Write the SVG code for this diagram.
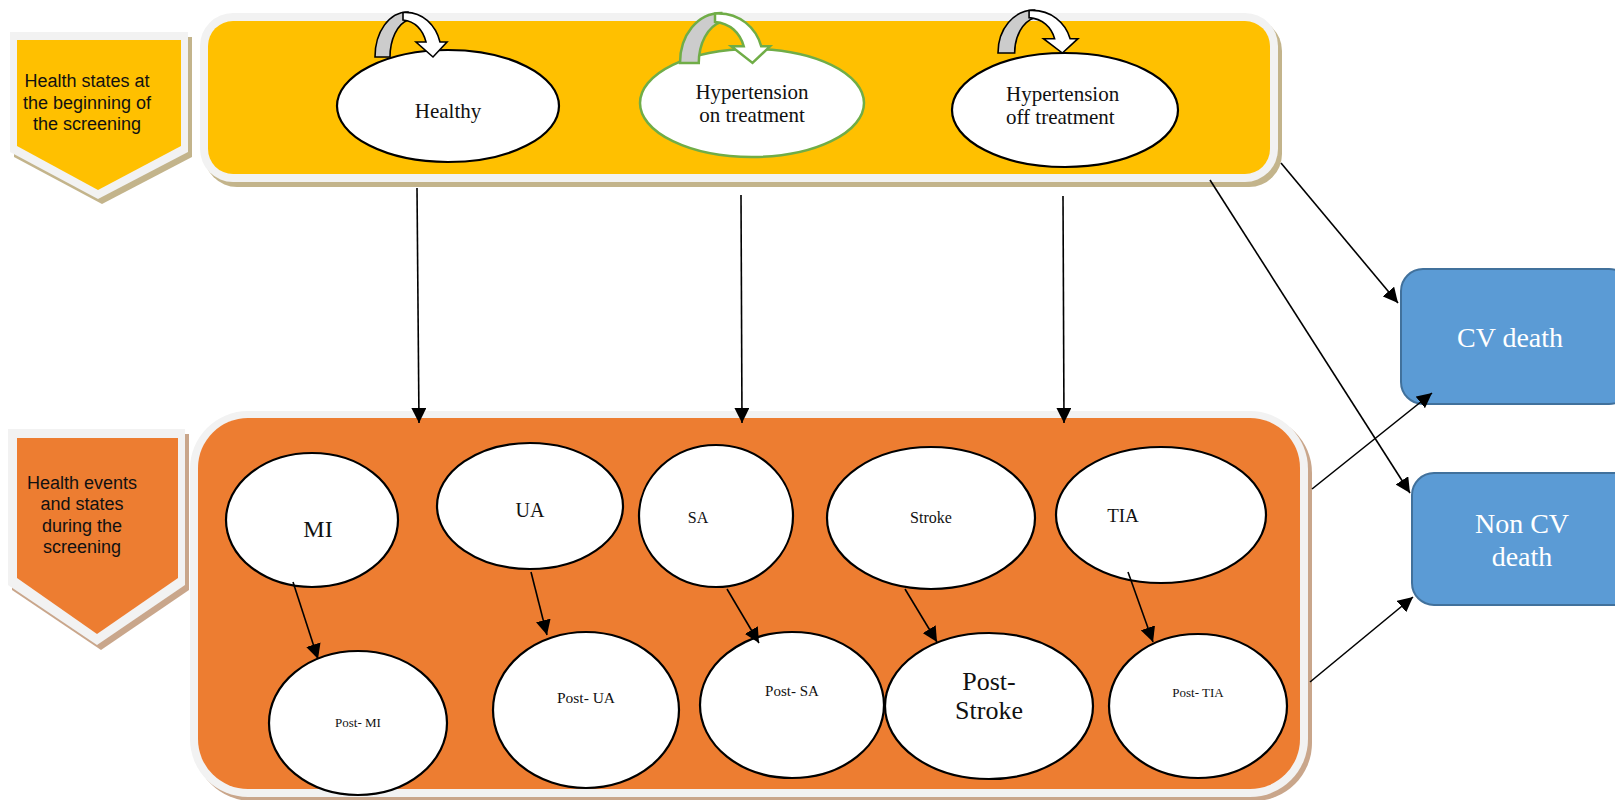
<svg xmlns="http://www.w3.org/2000/svg" width="1615" height="800" viewBox="0 0 1615 800">
<defs>
<marker id="ah" viewBox="0 0 10 10" refX="10" refY="5" markerWidth="15" markerHeight="15" markerUnits="userSpaceOnUse" orient="auto">
<path d="M0,0 L10,5 L0,10 Z" fill="#000"/>
</marker>
<style>
.lbl{font-family:"Liberation Sans",Arial,sans-serif;font-size:18px;fill:#111;text-anchor:middle}
.ser{font-family:"Liberation Serif","Times New Roman",serif;fill:#111;text-anchor:middle}
.ell{fill:#fff;stroke:#000;stroke-width:2.2}
.con{stroke:#000;stroke-width:1.6;fill:none;marker-end:url(#ah)}
.plain{stroke:#000;stroke-width:1.6;fill:none}
.grey{fill:#cccccc;stroke:#000;stroke-width:1.6;vector-effect:non-scaling-stroke}
.wht{fill:#fff;stroke:#000;stroke-width:1.6;vector-effect:non-scaling-stroke}
.blue{fill:#5b9bd5;stroke:#41719c;stroke-width:2}
.bt{font-family:"Liberation Serif","Times New Roman",serif;font-size:28px;fill:#fff;text-anchor:middle}
</style>
</defs>
<rect width="1615" height="800" fill="#fff"/>

<!-- top chevron -->
<g id="label-top">
<polygon points="14,37 192,37 192,157 102,204 14,157" fill="#c3b48b"/>
<polygon points="10,32 188,32 188,152 98,199 10,152" fill="#f2f2f2"/>
<polygon points="17,40 181,40 181,146 98,190 17,146" fill="#ffc000"/>
<text class="lbl" x="87" y="87">Health states at</text>
<text class="lbl" x="87" y="109">the beginning of</text>
<text class="lbl" x="87" y="130">the screening</text>
</g>

<!-- top container -->
<g id="top-box">
<rect x="204" y="18" width="1078" height="169" rx="33" fill="#c3b48b"/>
<rect x="200" y="13" width="1078" height="169" rx="33" fill="#f2f2f2"/>
<rect x="208" y="21" width="1062" height="153" rx="25" fill="#ffc000"/>
</g>

<!-- bottom chevron -->
<g id="label-bottom">
<polygon points="12,434 189,434 189,590 101,650 12,590" fill="#c9a68b"/>
<polygon points="8,429 185,429 185,585 97,645 8,585" fill="#f2f2f2"/>
<polygon points="17,438 178,438 178,578 97,634 17,578" fill="#ed7d31"/>
<text class="lbl" x="82" y="489">Health events</text>
<text class="lbl" x="82" y="510">and states</text>
<text class="lbl" x="82" y="532">during the</text>
<text class="lbl" x="82" y="553">screening</text>
</g>

<!-- bottom container -->
<g id="bottom-box">
<rect x="194" y="415" width="1118" height="386" rx="58" fill="#c9a68b"/>
<rect x="190" y="411" width="1118" height="386" rx="58" fill="#f2f2f2"/>
<rect x="198" y="418" width="1102" height="371" rx="50" fill="#ed7d31"/>
</g>

<!-- top states -->
<g id="healthy">
<ellipse class="ell" cx="448" cy="106" rx="111" ry="56"/>
<text class="ser" x="448" y="118" font-size="21">Healthy</text>
<g transform="translate(375,12)">
<path class="grey" d="M0,45 C0,20 14,0 33,0 L33,8 C22,12 15,28 15,45 Z"/>
<path class="wht" d="M28,0.5 C48,-1 61,14 65,30 L72,30 L58,45 L41,30 L51,30 C48,18 40,9 28,8 Z"/>
</g>
</g>

<g id="htn-on">
<ellipse cx="752" cy="103" rx="112" ry="54" fill="#fff" stroke="#70ad47" stroke-width="2.5"/>
<text class="ser" x="752" y="99" font-size="21">Hypertension</text>
<text class="ser" x="752" y="122" font-size="21">on treatment</text>
<g transform="translate(680,13) scale(1.25,1.11)">
<path class="grey" style="stroke:#70ad47;stroke-width:2.5" d="M0,45 C0,20 14,0 33,0 L33,8 C22,12 15,28 15,45 Z"/>
<path class="wht" style="stroke:#70ad47;stroke-width:2.5" d="M28,0.5 C48,-1 61,14 65,30 L72,30 L58,45 L41,30 L51,30 C48,18 40,9 28,8 Z"/>
</g>
</g>

<g id="htn-off">
<ellipse class="ell" cx="1065" cy="110" rx="113" ry="57"/>
<text class="ser" x="1006" y="101" font-size="21" text-anchor="start" style="text-anchor:start">Hypertension</text>
<text class="ser" x="1006" y="124" font-size="21" style="text-anchor:start">off treatment</text>
<g transform="translate(998,10) scale(1.11,0.956)">
<path class="grey" d="M0,45 C0,20 14,0 33,0 L33,8 C22,12 15,28 15,45 Z"/>
<path class="wht" d="M28,0.5 C48,-1 61,14 65,30 L72,30 L58,45 L41,30 L51,30 C48,18 40,9 28,8 Z"/>
</g>
</g>

<!-- events row -->
<g id="mi"><ellipse class="ell" cx="312" cy="520" rx="86" ry="67"/><text class="ser" x="318" y="537" font-size="24">MI</text></g>
<g id="ua"><ellipse class="ell" cx="530" cy="506" rx="93" ry="63"/><text class="ser" x="530" y="517" font-size="20">UA</text></g>
<g id="sa"><ellipse class="ell" cx="716" cy="516" rx="77" ry="71"/><text class="ser" x="698" y="523" font-size="16">SA</text></g>
<g id="stroke"><ellipse class="ell" cx="931" cy="518" rx="104" ry="71"/><text class="ser" x="931" y="523" font-size="16">Stroke</text></g>
<g id="tia"><ellipse class="ell" cx="1161" cy="515" rx="105" ry="68"/><text class="ser" x="1123" y="522" font-size="19">TIA</text></g>

<!-- post states row -->
<g id="post-mi"><ellipse class="ell" cx="358" cy="723" rx="89" ry="72"/><text class="ser" x="358" y="727" font-size="13">Post- MI</text></g>
<g id="post-ua"><ellipse class="ell" cx="586" cy="710" rx="93" ry="78"/><text class="ser" x="586" y="703" font-size="15.5">Post- UA</text></g>
<g id="post-sa"><ellipse class="ell" cx="792" cy="705" rx="92" ry="73"/><text class="ser" x="792" y="696" font-size="15">Post- SA</text></g>
<g id="post-stroke"><ellipse class="ell" cx="989" cy="706" rx="104" ry="73"/><text class="ser" x="989" y="690" font-size="26">Post-</text><text class="ser" x="989" y="719" font-size="26">Stroke</text></g>
<g id="post-tia"><ellipse class="ell" cx="1198" cy="706" rx="89" ry="72"/><text class="ser" x="1198" y="697" font-size="13">Post- TIA</text></g>

<!-- outcome boxes -->
<g id="cv-death"><rect class="blue" x="1401" y="269" width="230" height="135" rx="22"/><text class="bt" x="1510" y="347">CV death</text></g>
<g id="non-cv-death"><rect class="blue" x="1412" y="473" width="230" height="132" rx="22"/><text class="bt" x="1522" y="533">Non CV</text><text class="bt" x="1522" y="566">death</text></g>

<!-- connectors -->
<g id="connectors">
<line class="con" x1="417" y1="188" x2="419" y2="423"/>
<line class="con" x1="741" y1="195" x2="742" y2="423"/>
<line class="con" x1="1063" y1="196" x2="1064" y2="423"/>
<line class="con" x1="1281" y1="163" x2="1398" y2="303"/>
<line class="con" x1="1210" y1="180" x2="1410" y2="493"/>
<line class="con" x1="1312" y1="489" x2="1432" y2="393"/>
<line class="con" x1="1310" y1="682" x2="1413" y2="597"/>
<line class="con" x1="293" y1="582" x2="318" y2="659"/>
<line class="con" x1="531" y1="572" x2="547" y2="635"/>
<line class="con" x1="727" y1="589" x2="759" y2="643"/>
<line class="con" x1="905" y1="589" x2="937" y2="642"/>
<line class="con" x1="1128" y1="572" x2="1153" y2="642"/>
</g>
</svg>
